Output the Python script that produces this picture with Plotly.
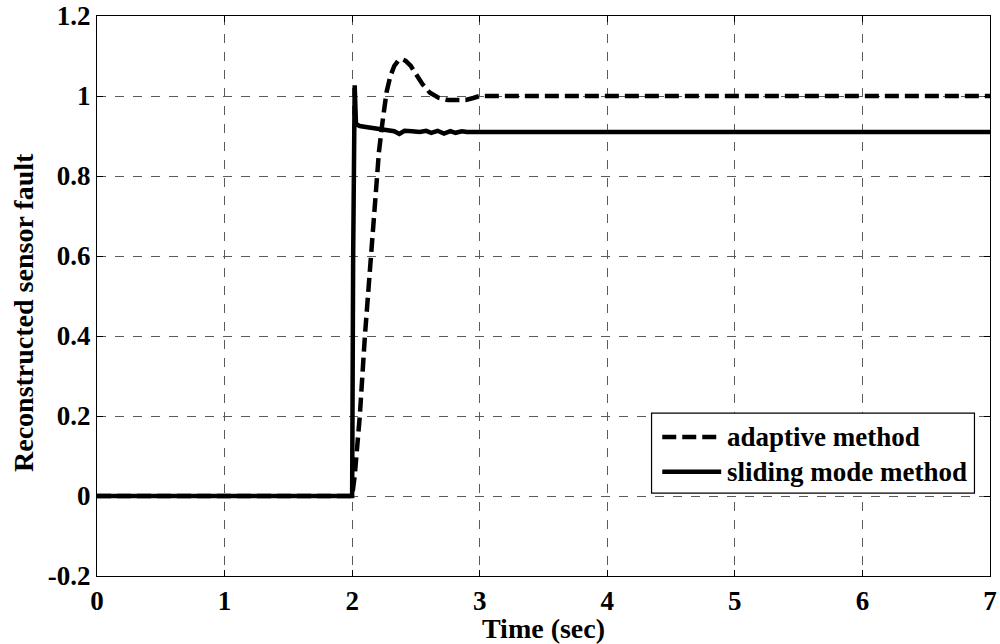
import plotly.graph_objects as go

# Reconstructed sensor fault over time, two estimation methods
adaptive_t = [0, 2.0, 2.02, 2.06, 2.10, 2.14, 2.175, 2.21, 2.24, 2.27, 2.30, 2.33,
              2.36, 2.39, 2.42, 2.46, 2.50, 2.55, 2.61, 2.68, 2.75, 2.82, 2.89,
              2.95, 3.0, 3.2, 7.0]
adaptive_y = [0, 0, 0.05, 0.20, 0.40, 0.58, 0.74, 0.86, 0.94, 1.01, 1.05, 1.075,
              1.088, 1.092, 1.088, 1.075, 1.055, 1.03, 1.008, 0.995, 0.99, 0.99,
              0.99, 0.995, 1.0, 1.0, 1.0]

sliding_t = [0, 2.0, 2.008, 2.016, 2.02, 2.03, 2.06, 2.12, 2.21, 2.28, 2.33, 2.37,
             2.41, 2.47, 2.53, 2.58, 2.62, 2.67, 2.72, 2.77, 2.81, 2.86, 2.9, 7.0]
sliding_y = [0, 0, 0.6, 1.0, 1.027, 0.93, 0.925, 0.922, 0.918, 0.915, 0.912, 0.905,
             0.913, 0.912, 0.91, 0.913, 0.908, 0.913, 0.906, 0.912, 0.908, 0.912,
             0.91, 0.91]

series_names = ["adaptive method", "sliding mode method"]
x_ticks = [0, 1, 2, 3, 4, 5, 6, 7]
y_ticks = [-0.2, 0, 0.2, 0.4, 0.6, 0.8, 1, 1.2]
y_tick_text = ["-0.2", "0", "0.2", "0.4", "0.6", "0.8", "1", "1.2"]

FONT = "Liberation Serif"
LW = 4.5
DASH = "14px,6px"

fig = go.Figure()
fig.add_trace(go.Scatter(x=adaptive_t, y=adaptive_y, mode="lines", name=series_names[0],
                         line=dict(color="black", width=LW, dash=DASH), showlegend=False))
fig.add_trace(go.Scatter(x=sliding_t, y=sliding_y, mode="lines", name=series_names[1],
                         line=dict(color="black", width=LW), showlegend=False))

axis_common = dict(
    showline=True, linecolor="black", linewidth=1.2, mirror="ticks",
    ticks="inside", ticklen=6, tickcolor="black", tickwidth=1,
    showgrid=True, gridcolor="#5a5a5a", gridwidth=1, griddash="dash",
    zeroline=False, automargin=False,
    tickfont=dict(family=FONT, size=27, color="black", weight="bold"),
)

fig.update_xaxes(range=[0, 7], tickvals=x_ticks, ticktext=[str(v) for v in x_ticks],
                 title=dict(text="Time (sec)", standoff=0,
                            font=dict(family=FONT, size=28, color="black", weight="bold")),
                 **axis_common)
fig.update_yaxes(range=[-0.2, 1.2], tickvals=y_ticks, ticktext=y_tick_text,
                 **axis_common)

# Vertical axis label, placed slightly below the plot-area centre
fig.add_annotation(xref="paper", yref="paper", x=-0.0815, y=0.47,
                   text="Reconstructed sensor fault", textangle=-90, showarrow=False,
                   xanchor="center", yanchor="middle",
                   font=dict(family=FONT, size=28, color="black", weight="bold"))

# Legend box drawn in plot-area (paper) coordinates
lx0, lx1, ly0, ly1 = 0.621, 0.9826, 0.148, 0.291
fig.add_shape(type="rect", xref="paper", yref="paper", x0=lx0, x1=lx1, y0=ly0, y1=ly1,
              line=dict(color="black", width=1.2), fillcolor="white", layer="above")
rows = [(0.248, DASH), (0.186, "solid")]
for (ry, dash), name in zip(rows, series_names):
    fig.add_shape(type="line", xref="paper", yref="paper", x0=0.633, x1=0.699, y0=ry, y1=ry,
                  line=dict(color="black", width=LW, dash=dash), layer="above")
    fig.add_annotation(xref="paper", yref="paper", x=0.703, y=ry, text=name,
                       showarrow=False, xanchor="left", yanchor="middle",
                       font=dict(family=FONT, size=27, color="black", weight="bold"))

fig.update_layout(
    width=1000, height=644,
    margin=dict(l=97, r=10, t=16, b=68),
    paper_bgcolor="white", plot_bgcolor="white",
    font=dict(family=FONT, color="black"),
)

fig.write_html("out.html")
